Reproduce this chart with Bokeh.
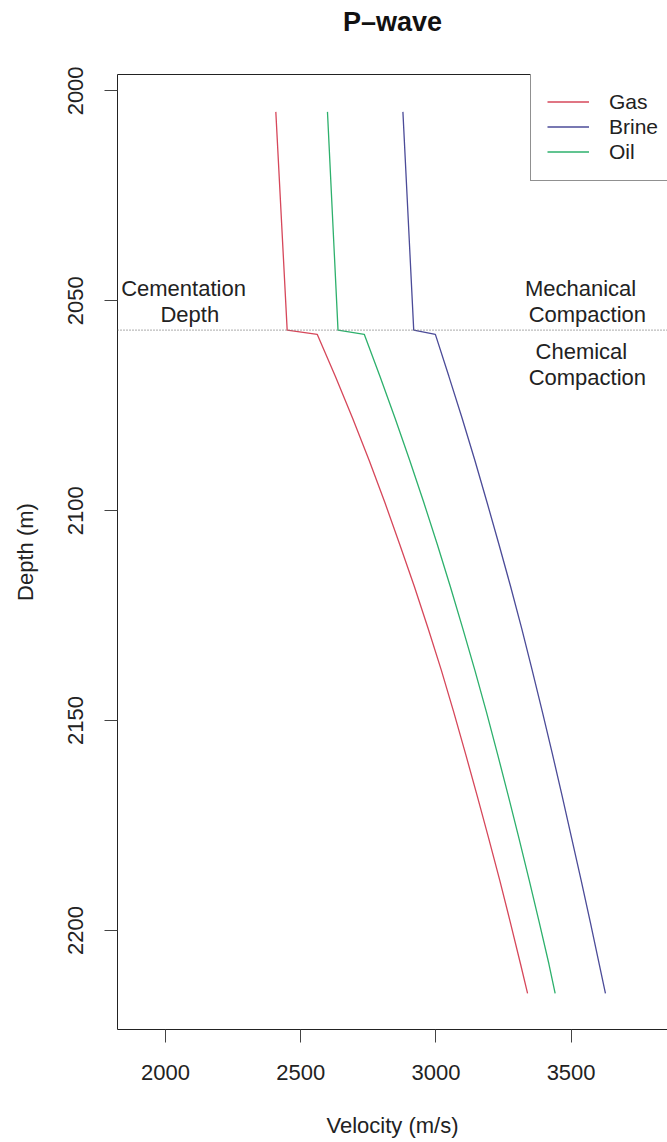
from bokeh.plotting import figure
from bokeh.models import Range1d, FixedTicker, Span, Label, Legend, LegendItem, LinearAxis
from bokeh.embed import file_html
from bokeh.resources import INLINE

# ---- data ----
depth = [2005, 2057, 2058, 2068, 2078, 2088, 2098, 2108, 2118, 2128, 2138,
         2148, 2158, 2168, 2178, 2188, 2198, 2208, 2215]
gas = [2408, 2450, 2561, 2628, 2692, 2753, 2811, 2866, 2920, 2971, 3020,
       3066, 3110, 3153, 3195, 3236, 3275, 3313, 3339]
brine = [2878, 2918, 2998, 3048, 3097, 3144, 3189, 3233, 3276, 3317, 3356,
         3394, 3431, 3467, 3502, 3537, 3571, 3604, 3627]
oil = [2599, 2638, 2735, 2793, 2849, 2903, 2955, 3005, 3053, 3099, 3144,
       3187, 3228, 3268, 3307, 3345, 3382, 3418, 3441]
series_names = ["Gas", "Brine", "Oil"]
cementation_depth = 2057
x_ticks = [2000, 2500, 3000, 3500]
y_ticks = [2000, 2050, 2100, 2150, 2200]

FONT = "Liberation Sans"
colors = {"Gas": "#D6475A", "Brine": "#4B4B98", "Oil": "#2DB06C"}

p = figure(width=667, height=1142,
           x_range=Range1d(1822.5, 3856.5), y_range=Range1d(2223.6, 1996.1),
           output_backend="svg", toolbar_location=None,
           min_border_left=117, min_border_right=0,
           min_border_top=74, min_border_bottom=113)
p.grid.visible = False
p.outline_line_color = None
p.background_fill_color = "white"

# axes
for ax in (p.xaxis[0], p.yaxis[0]):
    ax.major_tick_out = 13
    ax.major_tick_in = 0
    ax.minor_tick_line_color = None
    ax.axis_line_color = "#222222"
    ax.major_tick_line_color = "#444444"
    ax.major_label_text_font = FONT
    ax.major_label_text_font_size = "22px"
    ax.major_label_text_color = "#222222"
    ax.axis_label_text_font = FONT
    ax.axis_label_text_font_size = "22px"
    ax.axis_label_text_font_style = "normal"
    ax.axis_label_text_color = "#222222"

p.xaxis.ticker = FixedTicker(ticks=x_ticks)
p.yaxis.ticker = FixedTicker(ticks=y_ticks)
p.xaxis.axis_label = "Velocity (m/s)"
p.yaxis.axis_label = "Depth (m)"
p.xaxis.major_label_standoff = 22
p.xaxis.axis_label_standoff = 30
p.yaxis.major_label_standoff = 21
p.yaxis.axis_label_standoff = 28
p.yaxis.major_label_orientation = "vertical"

# top frame line; its axis label serves as the chart title
top_axis = LinearAxis(ticker=FixedTicker(ticks=[]), major_label_text_font_size="0px",
                      major_tick_out=0, major_tick_in=0, major_label_standoff=0,
                      axis_label="P\u2013wave", axis_label_standoff=38,
                      axis_label_text_font=FONT, axis_label_text_font_size="27px",
                      axis_label_text_font_style="bold", axis_label_text_color="#111111",
                      major_tick_line_color=None, minor_tick_line_color=None,
                      axis_line_color="#222222")
p.add_layout(top_axis, "above")

# cementation depth line
p.add_layout(Span(location=cementation_depth, dimension="width",
                  line_color="#777777", line_dash="1 2", line_width=1.1))

# curves
renderers = {}
for name, vals in zip(series_names, [gas, brine, oil]):
    renderers[name] = p.line(vals, depth, line_color=colors[name], line_width=1.3)

legend = Legend(items=[LegendItem(label=n, renderers=[renderers[n]]) for n in series_names],
                location=(413, 848), padding=16, margin=0, spacing=0,
                glyph_width=42, glyph_height=25, label_height=25, label_standoff=20,
                label_text_font=FONT, label_text_font_size="21px", label_text_color="#222222",
                border_line_color="#222222", border_line_width=1,
                background_fill_color="white", background_fill_alpha=1.0)
p.add_layout(legend)

# annotations
annots = [("Cementation", 2066.6, 2047.05), ("Depth", 2090.0, 2053.2),
          ("Mechanical", 3535.0, 2047.05), ("Compaction", 3560.0, 2053.2),
          ("Chemical", 3538.0, 2062.1), ("Compaction", 3560.0, 2068.25)]
for txt, xv, yv in annots:
    p.add_layout(Label(x=xv, y=yv, text=txt, text_align="center", text_baseline="middle",
                       text_font=FONT, text_font_size="22px", text_color="#222222"))

open("out.html", "w").write(file_html(p, INLINE))
